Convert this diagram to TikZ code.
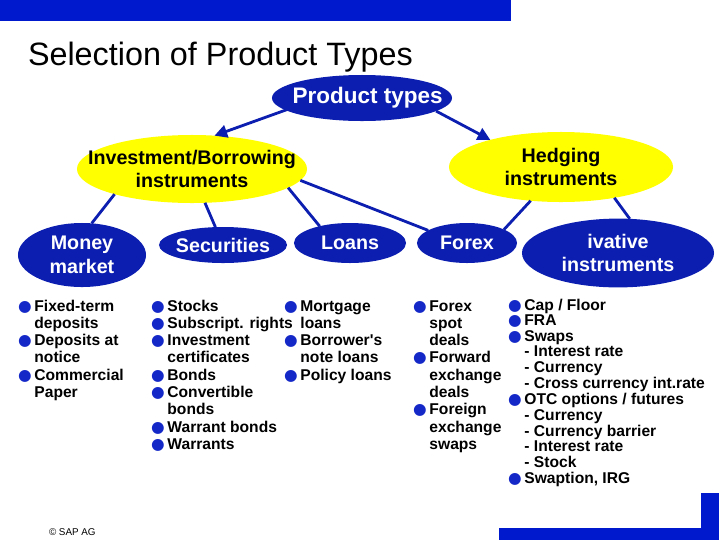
\documentclass[tikz,border=0pt]{standalone}
\usepackage{fontspec}
\setmainfont{Liberation Sans}
\newfontfamily\bulfont{DejaVu Sans}
\usepackage{xcolor}
\usepackage{tikz}
\usetikzlibrary{positioning, arrows.meta, shapes.geometric}
\definecolor{SAP_Bar}{HTML}{0019CC}
\definecolor{SAP_Navy}{HTML}{0C1EB0}
\definecolor{SAP_Yellow}{HTML}{FFFF00}
\definecolor{SAP_Bullet}{HTML}{1428C8}
\newcommand{\bul}{{\bulfont\textcolor{SAP_Bullet}{●}}}

\begin{document}
\begin{tikzpicture}[
  x=0.025cm, y=-0.025cm,
  every node/.style={inner sep=0pt, outer sep=0pt},
  oval/.style={ellipse, fill=#1, draw=none},
  oval/.default=SAP_Navy,
  olbl/.style={text=white, align=center, font=\fontsize{14}{17}\selectfont\bfseries},
  ylbl/.style={olbl, text=black},
  list/.style={anchor=base west, font=\fontsize{11.1}{12.3}\selectfont\bfseries},
  conn/.style={draw=SAP_Navy, line width=2pt},
  arr/.style={conn, -{Triangle[length=9pt, width=9pt]}},
]
  \useasboundingbox (0,0) rectangle (720,540);

  % Frame bars
  \fill[SAP_Bar] (0,0) rectangle (511,21);
  \fill[SAP_Bar] (499,528) rectangle (719,540);
  \fill[SAP_Bar] (701,493) rectangle (719,540);

  % Title
  \node[anchor=base west, font=\fontsize{23}{27}\selectfont] (title) at (28,65) {Selection of Product Types};

  % Root
  \node[oval, minimum width=4.5cm, minimum height=1.15cm,
    label={[olbl, font=\fontsize{16}{19}\selectfont\bfseries, xshift=4pt]center:Product types}] (prod) at (362,98) {};

  % Second level
  \node[oval=SAP_Yellow, minimum width=5.75cm, minimum height=1.7cm,
    label={[ylbl]center:Investment/Borrowing\\instruments}] (inv) at (192,169) {};
  \node[oval=SAP_Yellow, minimum width=5.6cm, minimum height=1.75cm,
    label={[ylbl]center:Hedging\\instruments}] (hedge) at (561,167) {};

  % Third level
  \node[oval, minimum width=3.2cm, minimum height=1.6cm,
    label={[olbl]center:Money\\market}] (money) at (82,255) {};
  \node[oval, minimum width=3.2cm, minimum height=0.9cm,
    label={[olbl]center:Securities}] (sec) at (223,245) {};
  \node[oval, minimum width=2.8cm, minimum height=1.0cm,
    label={[olbl]center:Loans}] (loans) at (350,243) {};
  \node[oval, minimum width=2.5cm, minimum height=1.0cm,
    label={[olbl]center:Forex}] (forex) at (467,243) {};
  \node[oval, minimum width=4.8cm, minimum height=1.72cm,
    label={[olbl]center:ivative\\instruments}] (deriv) at (618,253) {};

  % Arrows
  \draw[arr, shorten <=-8pt] (prod.189) -- (inv.56);
  \draw[arr] (prod.350) -- (hedge.159);
  % Branches
  \draw[conn] (inv.198) -- (money.73);
  \draw[conn] (inv.291) -- (sec.113);
  \draw[conn] (inv.349) -- (loans.151);
  \draw[conn] (inv.354) -- (forex.162);
  \draw[conn] (hedge.228) -- (forex.20);
  \draw[conn] (hedge.330) -- (deriv.71);

  % Lists
  \node[list] (moneyl) at (18,311) {\begin{tabular}[t]{@{}l@{\hspace{2pt}}l@{}}
    \bul & Fixed-term\\ & deposits\\ \bul & Deposits at\\ & notice\\ \bul & Commercial\\ & Paper
  \end{tabular}};
  \node[list] (secl) at (151,311) {\begin{tabular}[t]{@{}l@{\hspace{2pt}}l@{}}
    \bul & Stocks\\ \bul & Subscript. rights\\ \bul & Investment\\ & certificates\\ \bul & Bonds\\
    \bul & Convertible\\ & bonds\\ \bul & Warrant bonds\\ \bul & Warrants
  \end{tabular}};
  \node[list] (loansl) at (284,311) {\begin{tabular}[t]{@{}l@{\hspace{2pt}}l@{}}
    \bul & Mortgage\\ & loans\\ \bul & Borrower\textquotesingle s\\ & note loans\\ \bul & Policy loans
  \end{tabular}};
  \node[list] (forexl) at (413,311) {\begin{tabular}[t]{@{}l@{\hspace{2pt}}l@{}}
    \bul & Forex\\ & spot\\ & deals\\ \bul & Forward\\ & exchange\\ & deals\\ \bul & Foreign\\ & exchange\\ & swaps
  \end{tabular}};
  \node[list, font=\fontsize{11.1}{11.1}\selectfont\bfseries] (derivl) at (508,310) {\begin{tabular}[t]{@{}l@{\hspace{2pt}}l@{}}
    \bul & Cap / Floor\\ \bul & FRA\\ \bul & Swaps\\ & - Interest rate\\ & - Currency\\ & - Cross currency int.rate\\
    \bul & OTC options / futures\\ & - Currency\\ & - Currency barrier\\ & - Interest rate\\ & - Stock\\ \bul & Swaption, IRG
  \end{tabular}};

  % Footer
  \node[anchor=west, font=\fontsize{7}{8}\selectfont] (copy) at (49,532) {© SAP AG};
\end{tikzpicture}
\end{document}
